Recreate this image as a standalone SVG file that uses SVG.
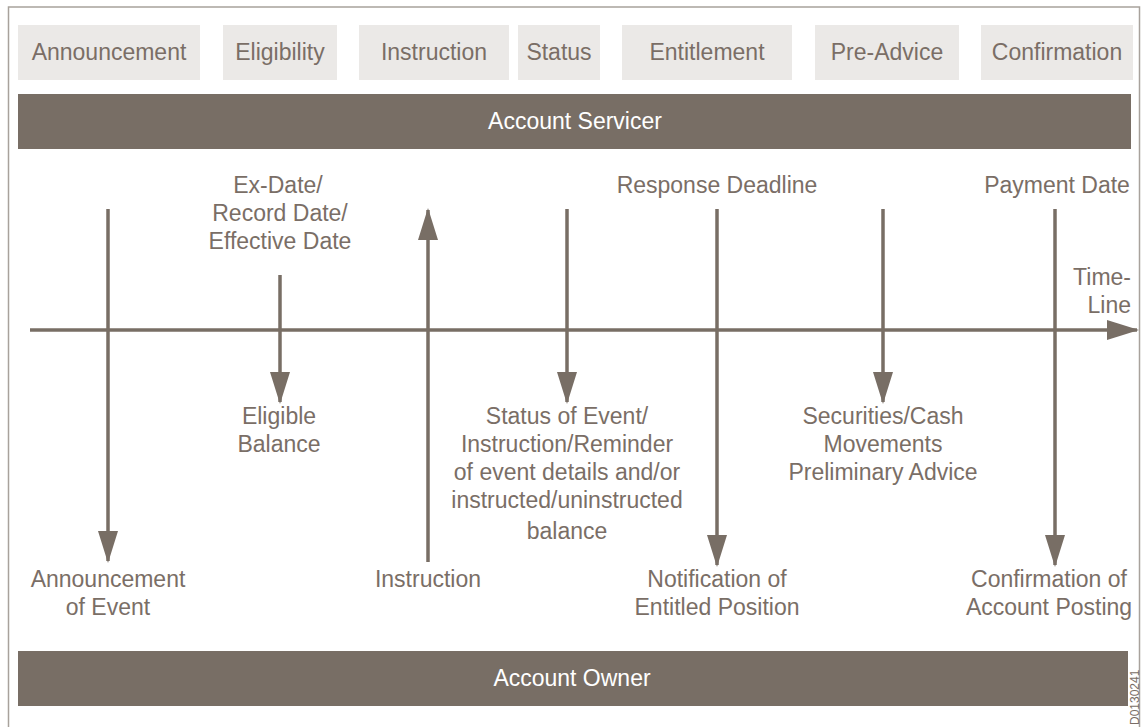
<svg xmlns="http://www.w3.org/2000/svg" width="1143" height="727" viewBox="0 0 1143 727">
<style>
.t{font-family:"Liberation Sans",Arial,sans-serif;font-size:23px;fill:#7a6e66;text-anchor:middle}
.w{fill:#ffffff}
.box{fill:#ebe9e7}
.bar{fill:#786e65}
.ln{stroke:#786e65;stroke-width:3.5;fill:none}
</style>
<defs>
<marker id="a" viewBox="0 0 32 20" refX="30" refY="10" markerWidth="32" markerHeight="20" markerUnits="userSpaceOnUse" orient="auto">
<path d="M0,0 L32,10 L0,20 Z" fill="#786e65"/>
</marker>
</defs>
<rect x="0" y="0" width="1143" height="727" fill="#ffffff"/>
<path d="M8.5,727 V7 H1139.5 V727" fill="none" stroke="#a8a29c" stroke-width="1.5"/>
<g id="phases">
<g id="p-announcement"><rect class="box" x="18" y="25" width="182" height="55"/><text class="t" x="109" y="60">Announcement</text></g>
<g id="p-eligibility"><rect class="box" x="223" y="25" width="114" height="55"/><text class="t" x="280" y="60">Eligibility</text></g>
<g id="p-instruction"><rect class="box" x="359" y="25" width="150" height="55"/><text class="t" x="434" y="60">Instruction</text></g>
<g id="p-status"><rect class="box" x="518" y="25" width="82" height="55"/><text class="t" x="559" y="60">Status</text></g>
<g id="p-entitlement"><rect class="box" x="622" y="25" width="170" height="55"/><text class="t" x="707" y="60">Entitlement</text></g>
<g id="p-preadvice"><rect class="box" x="815" y="25" width="144" height="55"/><text class="t" x="887" y="60">Pre-Advice</text></g>
<g id="p-confirmation"><rect class="box" x="981" y="25" width="152" height="55"/><text class="t" x="1057" y="60">Confirmation</text></g>
</g>
<g id="account-servicer"><rect class="bar" x="18" y="94" width="1113" height="55"/><text class="t w" x="575" y="129">Account Servicer</text></g>
<g id="account-owner"><rect class="bar" x="18" y="651" width="1110" height="55"/><text class="t w" x="572" y="686">Account Owner</text></g>
<g id="connectors">
<line class="ln" x1="30" y1="330" x2="1137" y2="330" marker-end="url(#a)"/>
<line class="ln" x1="108" y1="209" x2="108" y2="561" marker-end="url(#a)"/>
<line class="ln" x1="280" y1="275" x2="280" y2="402" marker-end="url(#a)"/>
<line class="ln" x1="428" y1="562" x2="428" y2="210" marker-end="url(#a)"/>
<line class="ln" x1="567" y1="209" x2="567" y2="402" marker-end="url(#a)"/>
<line class="ln" x1="717" y1="209" x2="717" y2="565" marker-end="url(#a)"/>
<line class="ln" x1="883" y1="209" x2="883" y2="402" marker-end="url(#a)"/>
<line class="ln" x1="1055" y1="209" x2="1055" y2="565" marker-end="url(#a)"/>
</g>
<g id="label-exdate"><text class="t" x="278" y="193">Ex-Date/</text><text class="t" x="280" y="221">Record Date/</text><text class="t" x="280" y="249">Effective Date</text></g>
<g id="label-response"><text class="t" x="717" y="193">Response Deadline</text></g>
<g id="label-payment"><text class="t" x="1057" y="193">Payment Date</text></g>
<g id="label-timeline"><text class="t" x="1131" y="285" style="text-anchor:end">Time-</text><text class="t" x="1131" y="313" style="text-anchor:end">Line</text></g>
<g id="label-eligible"><text class="t" x="279" y="424">Eligible</text><text class="t" x="279" y="452">Balance</text></g>
<g id="label-status"><text class="t" x="567" y="424">Status of Event/</text><text class="t" x="567" y="452">Instruction/Reminder</text><text class="t" x="567" y="480">of event details and/or</text><text class="t" x="567" y="508">instructed/uninstructed</text><text class="t" x="567" y="539">balance</text></g>
<g id="label-securities"><text class="t" x="883" y="424">Securities/Cash</text><text class="t" x="883" y="452">Movements</text><text class="t" x="883" y="480">Preliminary Advice</text></g>
<g id="label-announcement"><text class="t" x="108" y="587">Announcement</text><text class="t" x="108" y="615">of Event</text></g>
<g id="label-instruction"><text class="t" x="428" y="587">Instruction</text></g>
<g id="label-notification"><text class="t" x="717" y="587">Notification of</text><text class="t" x="717" y="615">Entitled Position</text></g>
<g id="label-confirmation"><text class="t" x="1049" y="587">Confirmation of</text><text class="t" x="1049" y="615">Account Posting</text></g>
<text x="1139" y="725" transform="rotate(-90 1139 725)" style="font-family:'Liberation Sans',Arial,sans-serif;font-size:12px;fill:#7a6e66">D0130241</text>
</svg>
